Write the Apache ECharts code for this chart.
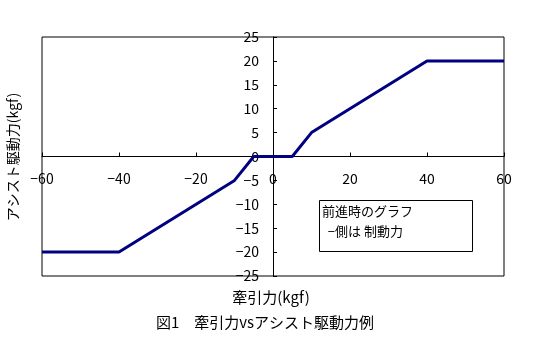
<!DOCTYPE html>
<html>
<head>
<meta charset="utf-8">
<script src="https://cdn.jsdelivr.net/npm/echarts@6/dist/echarts.min.js"></script>
<style>
  html, body { margin: 0; padding: 0; background: #fff; }
  #chart { width: 540px; height: 346px; }
</style>
</head>
<body>
<div id="chart"></div>
<script>
// Traction force (kgf) vs. assist drive force (kgf)
var tractionForce = [-60, -40, -10, -5, 5, 10, 40, 60];
var assistForce   = [-20, -20, -5, 0, 0, 5, 20, 20];

var xTicks = { min: -60, max: 60, step: 20 };
var yTicks = { min: -25, max: 25, step: 5 };

var xTitle = '牽引力(kgf)';
var yTitle = 'アシスト駆動力(kgf)';
var caption = '図1　牽引力vsアシスト駆動力例';
var noteLines = ['前進時のグラフ', '  −側は 制動力'];

var FONT = '"Noto Sans CJK JP", "DejaVu Sans", sans-serif';

// plot area
var G = { left: 42, right: 36, top: 37, bottom: 70, width: 540 - 42 - 36, height: 346 - 37 - 70 };

// shift the axes so they cross at the origin (labels travel with them)
var xAxisOffset = -G.height * (0 - yTicks.min) / (yTicks.max - yTicks.min);
var yAxisOffset = -G.width * (0 - xTicks.min) / (xTicks.max - xTicks.min);

function minusFmt(v) { return String(v).replace('-', '−'); }

var chart = echarts.init(document.getElementById('chart'), null, { renderer: 'canvas' });

chart.setOption({
  backgroundColor: '#ffffff',
  animation: false,
  grid: {
    left: G.left, right: G.right, top: G.top, bottom: G.bottom,
    show: true, borderColor: '#000', borderWidth: 1, backgroundColor: 'transparent'
  },
  xAxis: {
    type: 'value', position: 'bottom', offset: xAxisOffset,
    min: xTicks.min, max: xTicks.max, interval: xTicks.step,
    axisLine: { onZero: false, lineStyle: { color: '#000', width: 1 } },
    axisTick: { show: true, inside: true, length: 4, lineStyle: { color: '#000' } },
    axisLabel: { color: '#000', fontSize: 14, fontFamily: FONT, margin: 15, formatter: minusFmt },
    splitLine: { show: false }
  },
  yAxis: {
    type: 'value', position: 'left', offset: yAxisOffset,
    min: yTicks.min, max: yTicks.max, interval: yTicks.step,
    axisLine: { onZero: false, lineStyle: { color: '#000', width: 1 } },
    axisTick: { show: true, inside: true, length: 4, lineStyle: { color: '#000' } },
    axisLabel: { color: '#000', fontSize: 14, fontFamily: FONT, margin: 14, formatter: minusFmt },
    splitLine: { show: false }
  },
  series: [{
    type: 'line',
    data: tractionForce.map(function (x, i) { return [x, assistForce[i]]; }),
    symbol: 'none',
    lineStyle: { color: '#000080', width: 3 },
    z: 3
  }],
  graphic: [
    {
      type: 'text',
      rotation: Math.PI / 2,
      x: 13, y: 157,
      style: { text: yTitle, fill: '#000', font: '14px ' + FONT, align: 'center', verticalAlign: 'middle' }
    },
    {
      type: 'text',
      x: 271, y: 297,
      style: { text: xTitle, fill: '#000', font: '15px ' + FONT, align: 'center', verticalAlign: 'middle' }
    },
    {
      type: 'text',
      x: 265, y: 322,
      style: { text: caption, fill: '#000', font: '15px ' + FONT, align: 'center', verticalAlign: 'middle' }
    },
    {
      type: 'rect',
      shape: { x: 319.5, y: 200.5, width: 153, height: 51 },
      style: { fill: '#fff', stroke: '#000', lineWidth: 1 },
      z: 10
    },
    {
      type: 'text',
      x: 322, y: 201,
      style: { text: noteLines.join('\n'), fill: '#000', font: '13px ' + FONT, lineHeight: 20 },
      z: 11
    }
  ]
});
</script>
</body>
</html>
